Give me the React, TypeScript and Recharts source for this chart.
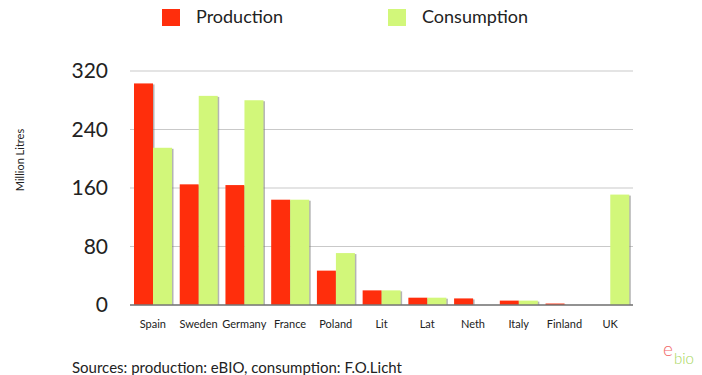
import { BarChart, Bar, XAxis, YAxis, CartesianGrid } from 'recharts'

const countries = ['Spain', 'Sweden', 'Germany', 'France', 'Poland', 'Lit', 'Lat', 'Neth', 'Italy', 'Finland', 'UK']
const production = [303, 165, 164, 144, 47, 20, 10, 9, 6, 2, 0]
const consumption = [215, 286, 280, 144, 71, 20, 10, 0, 6, 0, 151]
const yTicks = [0, 80, 160, 240, 320]

const data = countries.map((name, i) => ({ name, production: production[i], consumption: consumption[i] }))

const FONT = 'Lato, "Open Sans", sans-serif'
const RED = '#ff2e0c'
const GREEN = '#d2f77a'

// bar with a soft grey shadow on its right side
function ShadowBar(props: any) {
  const { x, y, width, height, fill } = props
  if (!height || height <= 0) return null
  return (
    <g>
      <rect x={x + 1.5} y={y + 1} width={width} height={height - 1} fill='#777' opacity={0.55} />
      <rect x={x} y={y} width={width} height={height} fill={fill} />
    </g>
  )
}

function LegendBox() {
  return (
    <div style={{ position: 'absolute', left: 0, top: 0, width: 702, height: 30, fontFamily: FONT, fontSize: 18, color: '#222' }}>
      <div style={{ position: 'absolute', left: 162, top: 9, width: 18, height: 17, background: RED }} />
      <span style={{ position: 'absolute', left: 196, top: 5 }}>Production</span>
      <div style={{ position: 'absolute', left: 388, top: 9, width: 18, height: 17, background: GREEN }} />
      <span style={{ position: 'absolute', left: 422, top: 5 }}>Consumption</span>
    </div>
  )
}

export default function App() {
  return (
    <div style={{ position: 'fixed', left: 0, top: 0, width: 702, height: 375, background: '#fff' }}>
      <BarChart
        width={702}
        height={375}
        data={data}
        margin={{ top: 71, right: 69, bottom: 40, left: 0 }}
        barGap={0}
        barSize={19}
      >
        <CartesianGrid vertical={false} stroke='#c9c9c9' strokeWidth={1.2} />
        <XAxis
          dataKey='name'
          height={30}
          tickLine={false}
          axisLine={{ stroke: '#777', strokeWidth: 1.5 }}
          tick={{ fontFamily: FONT, fontSize: 11, fill: '#222' }}
          tickMargin={9}
          interval={0}
        />
        <YAxis
          width={130}
          domain={[0, 320]}
          ticks={yTicks}
          axisLine={false}
          tickLine={false}
          tickSize={0}
          tickMargin={22}
          tick={{ fontFamily: FONT, fontSize: 21, fill: '#222' }}
        />
        <Bar dataKey='production' fill={RED} shape={ShadowBar} isAnimationActive={false} />
        <Bar dataKey='consumption' fill={GREEN} shape={ShadowBar} isAnimationActive={false} />
        <text x={24} y={160} transform='rotate(-90 24 160)' textAnchor='middle' fontFamily={FONT} fontSize={11} fill='#222'>
          Million Litres
        </text>
        <text x={72} y={373} fontFamily={FONT} fontSize={15} fill='#222'>
          Sources: production: eBIO, consumption: F.O.Licht
        </text>
        <text x={663} y={356} fontFamily={FONT} fontSize={19} fontWeight={300} fill='#f26a6a'>e</text>
        <text x={674} y={364} fontFamily={FONT} fontSize={15} fontWeight={300} fill='#a5d65a'>bio</text>
      </BarChart>
      <LegendBox />
    </div>
  )
}
